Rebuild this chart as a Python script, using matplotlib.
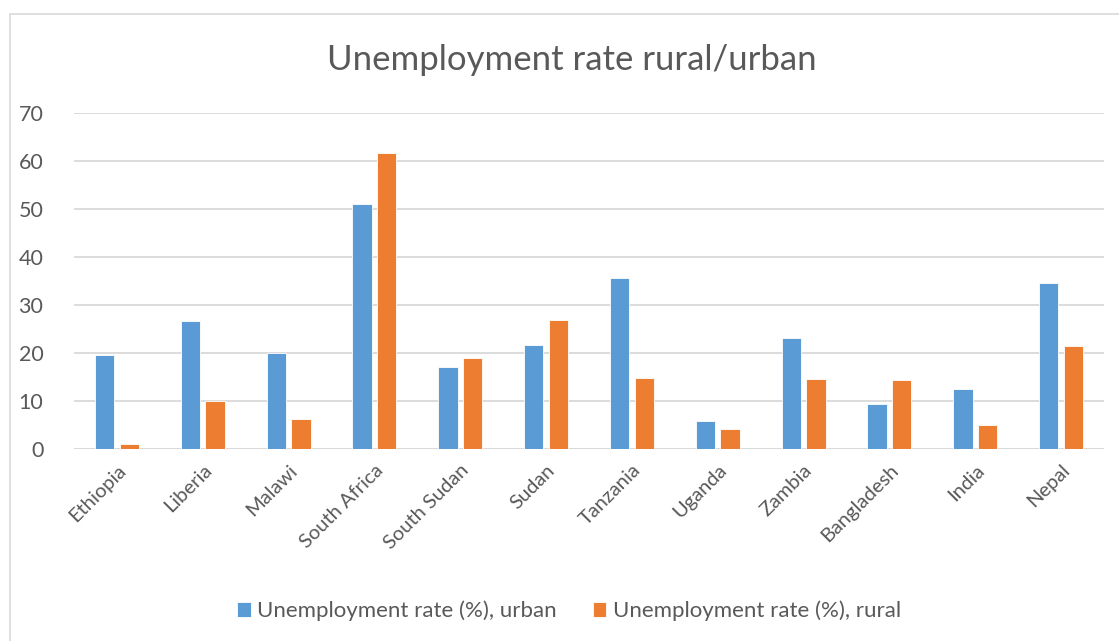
import numpy as np
import matplotlib.pyplot as plt
from matplotlib.patches import Rectangle

countries = ["Ethiopia", "Liberia", "Malawi", "South Africa", "South Sudan", "Sudan",
             "Tanzania", "Uganda", "Zambia", "Bangladesh", "India", "Nepal"]
urban = [19.6, 26.7, 20.1, 51.1, 17.1, 21.7, 35.7, 5.9, 23.1, 9.3, 12.5, 34.6]
rural = [1.1, 9.9, 6.3, 61.7, 18.9, 26.9, 14.8, 4.2, 14.6, 14.4, 5.1, 21.5]
yticks = [0, 10, 20, 30, 40, 50, 60, 70]

BLUE = "#5B9BD5"
ORANGE = "#ED7D31"
GRID = "#D9D9D9"
TEXT = "#595959"

plt.rcParams["font.family"] = ["Lato", "DejaVu Sans"]

fig = plt.figure(figsize=(11.19, 6.41), dpi=100)
W, H = 1119, 641

# chart frame
fig.patches.append(Rectangle((10 / W, -0.01), 1.2, 1 - 14 / H + 0.01, transform=fig.transFigure,
                             fill=False, edgecolor=GRID, linewidth=1.2))

ax = fig.add_axes([74 / W, 1 - 449 / H, (1104 - 74) / W, (449 - 113) / H])
x = np.arange(len(countries))
w = 0.225
off = 0.143
ax.bar(x - off, urban, w, color=BLUE, edgecolor="white", linewidth=0.6, zorder=3,
       label="Unemployment rate (%), urban")
ax.bar(x + off, rural, w, color=ORANGE, edgecolor="white", linewidth=0.6, zorder=3,
       label="Unemployment rate (%), rural")

ax.set_xlim(-0.5, len(countries) - 0.5)
ax.set_ylim(0, 70)
ax.set_yticks(yticks)
ax.yaxis.grid(True, color=GRID, linewidth=1.3, zorder=0)
for s in ax.spines.values():
    s.set_visible(False)
ax.axhline(0, color=GRID, linewidth=1.3, zorder=2)
ax.tick_params(axis="both", length=0, labelcolor=TEXT)
ax.tick_params(axis="y", labelsize=15.5, pad=22)
ax.set_xticks(x)
ax.set_xticklabels(countries, rotation=45, ha="right", rotation_mode="anchor")
ax.tick_params(axis="x", labelsize=14.5, pad=9)

fig.text(572 / W, 1 - 60 / H, "Unemployment rate rural/urban", ha="center", va="center",
         fontsize=25, color=TEXT)

fig.legend(loc="center", bbox_to_anchor=(569 / W, 1 - 611 / H), ncol=2, frameon=False,
           fontsize=16, labelcolor=TEXT, handlelength=0.6, handleheight=0.6,
           handletextpad=0.3, columnspacing=1.6)

fig.savefig("out.png", dpi=100)
